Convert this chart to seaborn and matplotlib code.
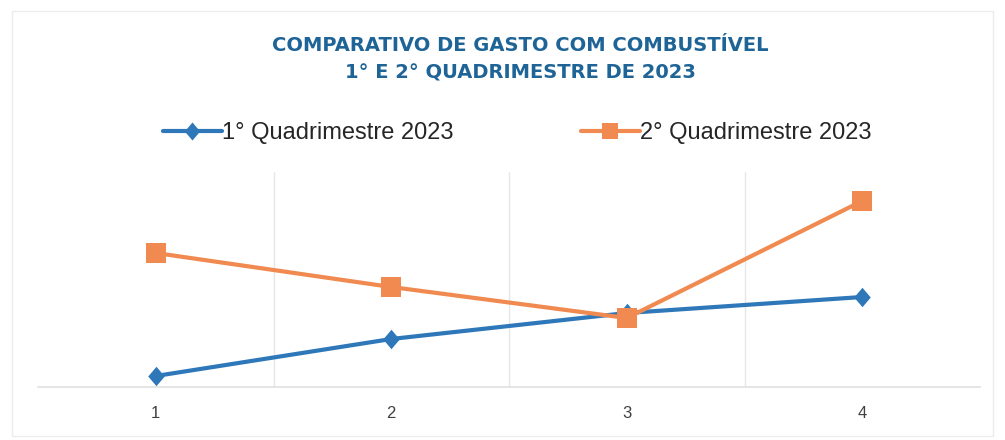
import pandas as pd
import matplotlib.pyplot as plt
import seaborn as sns
from matplotlib.patches import Rectangle

# Data (no y-axis labels shown, arbitrary units)
QUADRIMESTRE_1 = [11, 48, 74, 90]
QUADRIMESTRE_2 = [134, 100, 69, 186]
MESES = [1, 2, 3, 4]
SERIES = ["1° Quadrimestre 2023", "2° Quadrimestre 2023"]
TITULO = "COMPARATIVO DE GASTO COM COMBUSTÍVEL\n1° E 2° QUADRIMESTRE DE 2023"

BLUE = "#2E78BA"
ORANGE = "#F08A50"
# Excel-style diamond: taller than wide
DIAMANTE = [(0, 1), (0.85, 0), (0, -1), (-0.85, 0), (0, 1)]


def main():
    sns.set_theme(style="white")
    plt.rcParams["font.family"] = ["Liberation Sans", "DejaVu Sans"]

    df = pd.DataFrame({
        "Mes": MESES * 2,
        "Valor": QUADRIMESTRE_1 + QUADRIMESTRE_2,
        "Serie": [SERIES[0]] * 4 + [SERIES[1]] * 4,
    })

    fig = plt.figure(figsize=(10.05, 4.40), dpi=100)
    ax = fig.add_axes([38 / 1005, 1 - 387 / 440, (980 - 38) / 1005, (387 - 172) / 440])

    sns.lineplot(
        data=df, x="Mes", y="Valor", hue="Serie", style="Serie",
        palette=[BLUE, ORANGE], markers=[DIAMANTE, "s"], dashes=False,
        linewidth=3, markersize=14, markeredgewidth=0, ax=ax, legend=False,
    )

    ax.set_xlim(0.5, 4.5)
    ax.set_ylim(0, 215)
    ax.set_xticks(MESES)
    ax.set_xticklabels([str(m) for m in MESES], fontsize=12, color="#404040")
    ax.set_yticks([])
    ax.set_xlabel("")
    ax.set_ylabel("")
    ax.tick_params(axis="x", length=0, pad=14)

    # gridlines between categories
    for xg in [1.5, 2.5, 3.5]:
        ax.axvline(xg, color="#e6e6e6", linewidth=1, zorder=0)
    for side in ["top", "left", "right"]:
        ax.spines[side].set_visible(False)
    ax.spines["bottom"].set_color("#e0e0e0")
    ax.spines["bottom"].set_linewidth(1.2)

    handles = [
        plt.Line2D([], [], color=BLUE, lw=3, marker=DIAMANTE, ms=13, mew=0),
        plt.Line2D([], [], color=ORANGE, lw=3, marker="s", ms=11, mew=0),
    ]
    fig.legend(
        handles, SERIES, loc="center", bbox_to_anchor=(517 / 1005, 1 - 133 / 440),
        ncol=2, frameon=False, fontsize=17, handlelength=2.5, handletextpad=0.0,
        columnspacing=5.4, labelcolor="#262626",
    )

    fig.text(
        520 / 1005, 1 - 59 / 440, TITULO, ha="center", va="center",
        fontsize=14, fontweight="bold", color="#1E6496", linespacing=1.55,
        family="DejaVu Sans",
    )

    fig.patches.append(Rectangle((0.012, 0.01), 0.976, 0.965, transform=fig.transFigure,
                                 fill=False, edgecolor="#ececec", linewidth=1))

    fig.savefig("out.png", dpi=100)


if __name__ == "__main__":
    main()
